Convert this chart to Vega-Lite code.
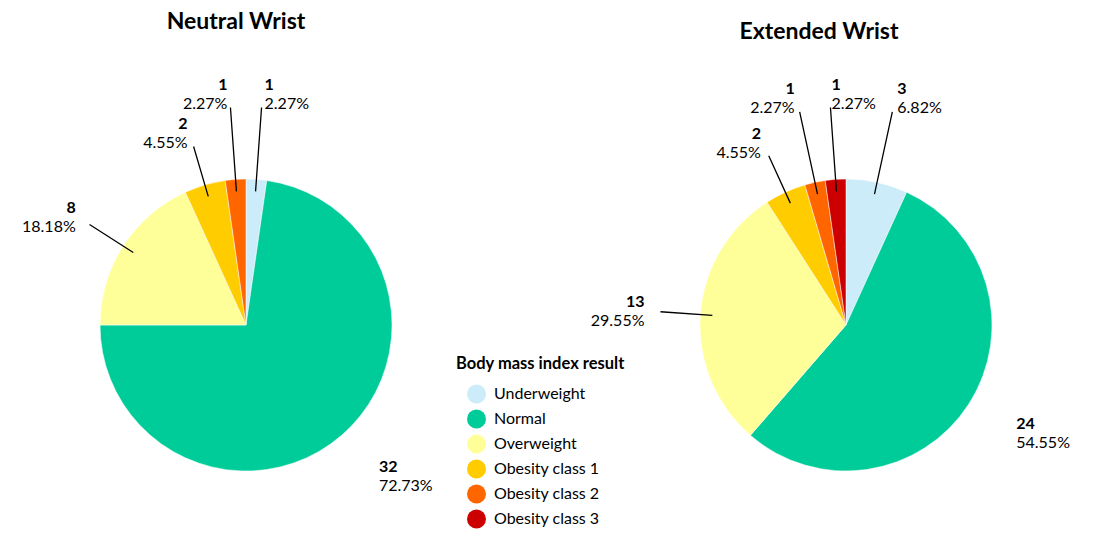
{
  "$schema": "https://vega.github.io/schema/vega-lite/v6.json",
  "background": "white",
  "padding": {"left": 0, "top": 10, "right": 0, "bottom": 0},
  "bounds": "flush",
  "datasets": {
    "bmi": [
      {"wrist": "Neutral Wrist", "category": "Underweight", "order": 1, "count": 1, "pct": 0.0227},
      {"wrist": "Neutral Wrist", "category": "Normal", "order": 2, "count": 32, "pct": 0.7273},
      {"wrist": "Neutral Wrist", "category": "Overweight", "order": 3, "count": 8, "pct": 0.1818},
      {"wrist": "Neutral Wrist", "category": "Obesity class 1", "order": 4, "count": 2, "pct": 0.0455},
      {"wrist": "Neutral Wrist", "category": "Obesity class 2", "order": 5, "count": 1, "pct": 0.0227},
      {"wrist": "Extended Wrist", "category": "Underweight", "order": 1, "count": 3, "pct": 0.0682},
      {"wrist": "Extended Wrist", "category": "Normal", "order": 2, "count": 24, "pct": 0.5455},
      {"wrist": "Extended Wrist", "category": "Overweight", "order": 3, "count": 13, "pct": 0.2955},
      {"wrist": "Extended Wrist", "category": "Obesity class 1", "order": 4, "count": 2, "pct": 0.0455},
      {"wrist": "Extended Wrist", "category": "Obesity class 2", "order": 5, "count": 1, "pct": 0.0227},
      {"wrist": "Extended Wrist", "category": "Obesity class 3", "order": 6, "count": 1, "pct": 0.0227}
    ]
  },
  "config": {
    "font": "Lato",
    "view": {"stroke": null},
    "concat": {"spacing": 108},
    "title": {"fontSize": 23, "fontWeight": "bold", "color": "#000000", "anchor": "middle"},
    "text": {"fontSize": 16, "color": "#000000"},
    "legend": {
      "orient": "none",
      "legendX": 456,
      "legendY": 244,
      "titleFontSize": 16.5,
      "titleFontWeight": "bold",
      "titleColor": "#000000",
      "titlePadding": 12,
      "labelFontSize": 16,
      "labelColor": "#000000",
      "labelOffset": 8,
      "symbolType": "circle",
      "symbolSize": 360,
      "symbolStrokeWidth": 0,
      "symbolOffset": 11,
      "rowPadding": 6
    }
  },
  "hconcat": [
    {
      "width": 492,
      "height": 426,
      "title": {"text": "Neutral Wrist", "offset": 43, "dx": -10},
      "data": {"name": "bmi"},
      "transform": [{"filter": {"field": "wrist", "equal": "Neutral Wrist"}}],
      "encoding": {
        "theta": {"field": "count", "type": "quantitative", "stack": true},
        "order": {"field": "order", "type": "quantitative"}
      },
      "layer": [
        {
          "mark": {"type": "arc", "outerRadius": 146, "stroke": "#ffffff", "strokeWidth": 0.5},
          "encoding": {
            "color": {
              "field": "category",
              "type": "nominal",
              "title": "Body mass index result",
              "scale": {
                "domain": ["Underweight", "Normal", "Overweight", "Obesity class 1", "Obesity class 2", "Obesity class 3"],
                "range": ["#CCECFA", "#00CC99", "#FFFF99", "#FFCC00", "#FF6600", "#CC0000"]
              }
            }
          }
        },
        {
          "mark": {"type": "arc", "innerRadius": 134, "outerRadius": 218, "padAngle": 3.1416, "fillOpacity": 0, "stroke": "#000000", "strokeWidth": 1.3},
          "encoding": {
            "strokeOpacity": {"condition": {"test": "indexof(['Underweight', 'Obesity class 2', 'Obesity class 3'], datum.category) >= 0", "value": 1}, "value": 0}
          }
        },
        {
          "mark": {"type": "arc", "innerRadius": 134, "outerRadius": 186, "padAngle": 3.1416, "fillOpacity": 0, "stroke": "#000000", "strokeWidth": 1.3},
          "encoding": {
            "strokeOpacity": {"condition": {"test": "indexof(['Overweight', 'Obesity class 1'], datum.category) >= 0", "value": 1}, "value": 0}
          }
        },
        {
          "mark": {"type": "text", "radius": 232, "align": "left", "baseline": "bottom", "dx": 2, "dy": -1, "fontWeight": "bold"},
          "encoding": {"text": {"condition": {"test": "indexof(['Underweight', 'Obesity class 3'], datum.category) >= 0", "field": "count", "type": "quantitative"}, "value": ""}}
        },
        {
          "mark": {"type": "text", "radius": 232, "align": "left", "baseline": "top", "dx": 2, "dy": 2},
          "encoding": {"text": {"condition": {"test": "indexof(['Underweight', 'Obesity class 3'], datum.category) >= 0", "field": "pct", "type": "quantitative", "format": ".2%"}, "value": ""}}
        },
        {
          "mark": {"type": "text", "radius": 232, "align": "right", "baseline": "bottom", "dx": -2, "dy": -1, "fontWeight": "bold"},
          "encoding": {"text": {"condition": {"test": "datum.category === 'Obesity class 2'", "field": "count", "type": "quantitative"}, "value": ""}}
        },
        {
          "mark": {"type": "text", "radius": 232, "align": "right", "baseline": "top", "dx": -2, "dy": 2},
          "encoding": {"text": {"condition": {"test": "datum.category === 'Obesity class 2'", "field": "pct", "type": "quantitative", "format": ".2%"}, "value": ""}}
        },
        {
          "mark": {"type": "text", "radius": 200, "align": "left", "baseline": "bottom", "dx": 2, "dy": -1, "fontWeight": "bold"},
          "encoding": {"text": {"condition": {"test": "datum.category === 'Normal'", "field": "count", "type": "quantitative"}, "value": ""}}
        },
        {
          "mark": {"type": "text", "radius": 200, "align": "left", "baseline": "top", "dx": 2, "dy": 2},
          "encoding": {"text": {"condition": {"test": "datum.category === 'Normal'", "field": "pct", "type": "quantitative", "format": ".2%"}, "value": ""}}
        },
        {
          "mark": {"type": "text", "radius": 200, "align": "right", "baseline": "bottom", "dx": -2, "dy": -1, "fontWeight": "bold"},
          "encoding": {"text": {"condition": {"test": "indexof(['Overweight', 'Obesity class 1'], datum.category) >= 0", "field": "count", "type": "quantitative"}, "value": ""}}
        },
        {
          "mark": {"type": "text", "radius": 200, "align": "right", "baseline": "top", "dx": -2, "dy": 2},
          "encoding": {"text": {"condition": {"test": "indexof(['Overweight', 'Obesity class 1'], datum.category) >= 0", "field": "pct", "type": "quantitative", "format": ".2%"}, "value": ""}}
        }
      ]
    },
    {
      "width": 492,
      "height": 426,
      "title": {"text": "Extended Wrist", "offset": 33, "dx": -27},
      "data": {"name": "bmi"},
      "transform": [{"filter": {"field": "wrist", "equal": "Extended Wrist"}}],
      "encoding": {
        "theta": {"field": "count", "type": "quantitative", "stack": true},
        "order": {"field": "order", "type": "quantitative"}
      },
      "layer": [
        {
          "mark": {"type": "arc", "outerRadius": 146, "stroke": "#ffffff", "strokeWidth": 0.5},
          "encoding": {
            "color": {
              "field": "category",
              "type": "nominal",
              "title": "Body mass index result",
              "scale": {
                "domain": ["Underweight", "Normal", "Overweight", "Obesity class 1", "Obesity class 2", "Obesity class 3"],
                "range": ["#CCECFA", "#00CC99", "#FFFF99", "#FFCC00", "#FF6600", "#CC0000"]
              }
            }
          }
        },
        {
          "mark": {"type": "arc", "innerRadius": 134, "outerRadius": 218, "padAngle": 3.1416, "fillOpacity": 0, "stroke": "#000000", "strokeWidth": 1.3},
          "encoding": {
            "strokeOpacity": {"condition": {"test": "indexof(['Underweight', 'Obesity class 2', 'Obesity class 3'], datum.category) >= 0", "value": 1}, "value": 0}
          }
        },
        {
          "mark": {"type": "arc", "innerRadius": 134, "outerRadius": 186, "padAngle": 3.1416, "fillOpacity": 0, "stroke": "#000000", "strokeWidth": 1.3},
          "encoding": {
            "strokeOpacity": {"condition": {"test": "indexof(['Overweight', 'Obesity class 1'], datum.category) >= 0", "value": 1}, "value": 0}
          }
        },
        {
          "mark": {"type": "text", "radius": 232, "align": "left", "baseline": "bottom", "dx": 2, "dy": -1, "fontWeight": "bold"},
          "encoding": {"text": {"condition": {"test": "indexof(['Underweight', 'Obesity class 3'], datum.category) >= 0", "field": "count", "type": "quantitative"}, "value": ""}}
        },
        {
          "mark": {"type": "text", "radius": 232, "align": "left", "baseline": "top", "dx": 2, "dy": 2},
          "encoding": {"text": {"condition": {"test": "indexof(['Underweight', 'Obesity class 3'], datum.category) >= 0", "field": "pct", "type": "quantitative", "format": ".2%"}, "value": ""}}
        },
        {
          "mark": {"type": "text", "radius": 232, "align": "right", "baseline": "bottom", "dx": -2, "dy": -1, "fontWeight": "bold"},
          "encoding": {"text": {"condition": {"test": "datum.category === 'Obesity class 2'", "field": "count", "type": "quantitative"}, "value": ""}}
        },
        {
          "mark": {"type": "text", "radius": 232, "align": "right", "baseline": "top", "dx": -2, "dy": 2},
          "encoding": {"text": {"condition": {"test": "datum.category === 'Obesity class 2'", "field": "pct", "type": "quantitative", "format": ".2%"}, "value": ""}}
        },
        {
          "mark": {"type": "text", "radius": 200, "align": "left", "baseline": "bottom", "dx": 2, "dy": -1, "fontWeight": "bold"},
          "encoding": {"text": {"condition": {"test": "datum.category === 'Normal'", "field": "count", "type": "quantitative"}, "value": ""}}
        },
        {
          "mark": {"type": "text", "radius": 200, "align": "left", "baseline": "top", "dx": 2, "dy": 2},
          "encoding": {"text": {"condition": {"test": "datum.category === 'Normal'", "field": "pct", "type": "quantitative", "format": ".2%"}, "value": ""}}
        },
        {
          "mark": {"type": "text", "radius": 200, "align": "right", "baseline": "bottom", "dx": -2, "dy": -1, "fontWeight": "bold"},
          "encoding": {"text": {"condition": {"test": "indexof(['Overweight', 'Obesity class 1'], datum.category) >= 0", "field": "count", "type": "quantitative"}, "value": ""}}
        },
        {
          "mark": {"type": "text", "radius": 200, "align": "right", "baseline": "top", "dx": -2, "dy": 2},
          "encoding": {"text": {"condition": {"test": "indexof(['Overweight', 'Obesity class 1'], datum.category) >= 0", "field": "pct", "type": "quantitative", "format": ".2%"}, "value": ""}}
        }
      ]
    }
  ]
}
